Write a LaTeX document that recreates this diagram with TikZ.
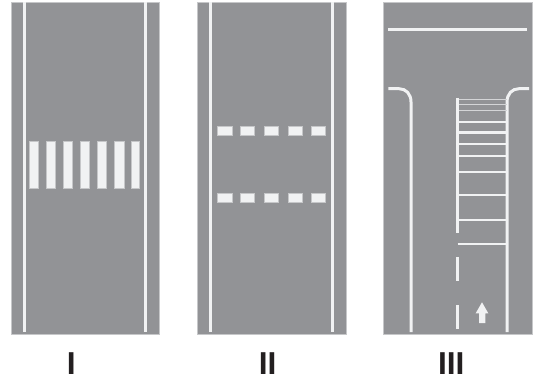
\documentclass[tikz,border=0pt]{standalone}
\usepackage{fontspec}
\setmainfont{Liberation Sans}
\definecolor{road}{HTML}{929396}
\definecolor{edgeg}{HTML}{C6C7C9}
\definecolor{paint}{HTML}{F1F2F3}
\definecolor{ink}{HTML}{231F20}
\tikzset{
  roadbed/.style={fill=road,draw=edgeg,line width=0.8pt},
  lane/.style={draw=paint,line width=3pt},
  rung/.style={draw=paint,line width=2.4pt},
  thinrung/.style={draw=paint!70!road,line width=1.5pt},
  block/.style={fill=paint,draw=edgeg,line width=0.5pt},
  caption/.style={font=\fontsize{31.7}{32}\selectfont\bfseries,text=ink,inner sep=0pt,anchor=base}
}
\begin{document}
\begin{tikzpicture}[x=1pt,y=-1pt]
\useasboundingbox (0,0) rectangle (538,387);
% Panel I
\draw[roadbed] (11,2) rectangle (159,334);
\draw[lane] (24,2) -- (24,332);
\draw[lane] (145.5,2) -- (145.5,332);
\foreach \a/\b in {29.7/38.3,46.3/55,63.7/72.3,80.3/89,97.3/106,114.3/124,131/139.7}
  \draw[block] (\a,141) rectangle (\b,188.3);
% Panel II
\draw[roadbed] (197.5,2) rectangle (346,334);
\draw[lane] (210.7,2) -- (210.7,332);
\draw[lane] (332.3,2) -- (332.3,332);
\foreach \a/\b in {217.3/232,240/254.3,264.3/278.7,288.3/302.7,311/325.3}{
  \draw[block] (\a,126) rectangle (\b,135.7);
  \draw[block] (\a,193) rectangle (\b,202.7);
}
% Panel III
\draw[roadbed] (383.5,2) rectangle (532,334);
\draw[lane] (388.3,30) -- (527,30);
\draw[lane] (388.3,88.7) -- (399,88.7) .. controls (406,88.7) and (411,94) .. (411,102) -- (411,332);
\draw[lane] (529,88.7) -- (519,88.7) .. controls (512,88.7) and (507,94) .. (507,102) -- (507,332);
\foreach \y in {99.3,104.7,110.3}
  \draw[thinrung] (457.7,\y) -- (507,\y);
\foreach \y in {122,132.7,144,156,172.3,195.3,220,244.3}
  \draw[rung] (457.7,\y) -- (507,\y);
\draw[lane] (457.7,98.3) -- (457.7,232.7);
\draw[lane] (457.7,257.3) -- (457.7,280.7);
\draw[lane] (457.7,305.3) -- (457.7,328.7);
\fill[paint] (482,302.3) -- (488.3,313.3) -- (485.3,313.3) -- (485.3,323) -- (479,323) -- (479,313.3) -- (475.7,313.3) -- cycle;
% Captions
\node[caption] (capI) at (71.3,374.7) {I};
\node[caption] (capII) at (267.7,374.7) {II};
\node[caption] (capIII) at (451.3,374.7) {III};
\end{tikzpicture}
\end{document}
